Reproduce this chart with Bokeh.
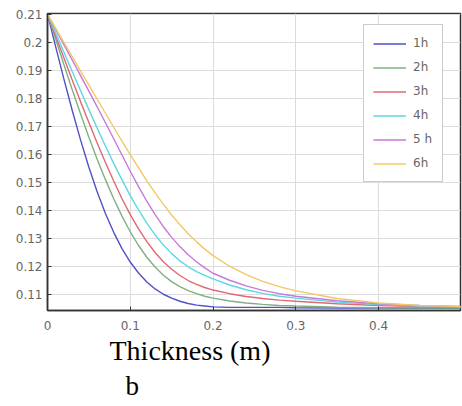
from bokeh.plotting import figure
from bokeh.models import Range1d, FixedTicker, Legend, LegendItem, Title
from bokeh.embed import file_html
from bokeh.resources import INLINE

# Thickness (m)
thickness = [0.00, 0.01, 0.02, 0.03, 0.04, 0.05, 0.06, 0.07, 0.08, 0.09,
             0.10, 0.11, 0.12, 0.13, 0.14, 0.15, 0.16, 0.17, 0.18, 0.19,
             0.20, 0.22, 0.24, 0.26, 0.28, 0.30, 0.35, 0.40, 0.45, 0.50]

h1 = [0.2100, 0.1982, 0.1866, 0.1755, 0.1650, 0.1553, 0.1466, 0.1388, 0.1321, 0.1263,
      0.1215, 0.1176, 0.1144, 0.1119, 0.1100, 0.1086, 0.1075, 0.1067, 0.1061, 0.1058,
      0.1055, 0.1053, 0.1053, 0.1053, 0.1053, 0.1052, 0.1051, 0.1051, 0.1050, 0.1050]
h2 = [0.2100, 0.2009, 0.1918, 0.1829, 0.1743, 0.1660, 0.1582, 0.1509, 0.1441, 0.1379,
      0.1323, 0.1274, 0.1232, 0.1197, 0.1168, 0.1145, 0.1127, 0.1113, 0.1102, 0.1093,
      0.1086, 0.1076, 0.1069, 0.1064, 0.1060, 0.1058, 0.1054, 0.1052, 0.1051, 0.1051]
h3 = [0.2100, 0.2021, 0.1942, 0.1864, 0.1787, 0.1713, 0.1640, 0.1570, 0.1504, 0.1441,
      0.1384, 0.1333, 0.1288, 0.1249, 0.1216, 0.1189, 0.1167, 0.1149, 0.1135, 0.1124,
      0.1115, 0.1102, 0.1092, 0.1085, 0.1079, 0.1075, 0.1066, 0.1060, 0.1056, 0.1054]
h4 = [0.2100, 0.2032, 0.1963, 0.1894, 0.1826, 0.1759, 0.1693, 0.1629, 0.1567, 0.1508,
      0.1452, 0.1401, 0.1354, 0.1312, 0.1276, 0.1245, 0.1219, 0.1198, 0.1181, 0.1167,
      0.1155, 0.1133, 0.1116, 0.1103, 0.1093, 0.1086, 0.1072, 0.1063, 0.1058, 0.1055]
h5 = [0.2100, 0.2045, 0.1990, 0.1935, 0.1880, 0.1825, 0.1769, 0.1712, 0.1655, 0.1597,
      0.1539, 0.1484, 0.1432, 0.1384, 0.1341, 0.1303, 0.1270, 0.1241, 0.1216, 0.1194,
      0.1175, 0.1150, 0.1130, 0.1114, 0.1102, 0.1093, 0.1077, 0.1066, 0.1060, 0.1056]
h6 = [0.2100, 0.2049, 0.1998, 0.1947, 0.1896, 0.1846, 0.1796, 0.1746, 0.1696, 0.1646,
      0.1598, 0.1551, 0.1505, 0.1462, 0.1421, 0.1383, 0.1348, 0.1316, 0.1287, 0.1261,
      0.1238, 0.1200, 0.1170, 0.1146, 0.1127, 0.1112, 0.1085, 0.1069, 0.1060, 0.1056]

series_names = ["1h", "2h", "3h", "4h", "5 h", "6h"]
series_values = [h1, h2, h3, h4, h5, h6]
series_colors = ["#5050c8", "#7fb07f", "#e06872", "#5cd8e4", "#c878dc", "#f2c866"]

x_ticks = [0.0, 0.1, 0.2, 0.3, 0.4]
x_tick_labels = {0.0: "0", 0.1: "0.1", 0.2: "0.2", 0.3: "0.3", 0.4: "0.4"}
y_ticks = [0.11, 0.12, 0.13, 0.14, 0.15, 0.16, 0.17, 0.18, 0.19, 0.20, 0.21]
y_tick_labels = {0.11: "0.11", 0.12: "0.12", 0.13: "0.13", 0.14: "0.14", 0.15: "0.15",
                 0.16: "0.16", 0.17: "0.17", 0.18: "0.18", 0.19: "0.19", 0.2: "0.2", 0.21: "0.21"}

p = figure(width=462, height=406, output_backend="svg", toolbar_location=None,
           x_range=Range1d(0, 0.499), y_range=Range1d(0.1042, 0.2102),
           min_border_left=47, min_border_right=2, min_border_top=13, min_border_bottom=96)

p.background_fill_color = "white"
p.border_fill_color = "white"
p.outline_line_color = "#333333"
p.outline_line_width = 1.5

p.xaxis.ticker = FixedTicker(ticks=x_ticks)
p.yaxis.ticker = FixedTicker(ticks=y_ticks)
p.yaxis.major_label_overrides = y_tick_labels
p.xaxis.major_label_overrides = x_tick_labels

for ax in (p.xaxis[0], p.yaxis[0]):
    ax.axis_line_color = "#333333"
    ax.axis_line_width = 1.5
    ax.major_tick_in = 4
    ax.major_tick_out = 0
    ax.minor_tick_line_color = None
    ax.major_tick_line_color = "#333333"
    ax.major_label_text_font = "DejaVu Sans"
    ax.major_label_text_font_size = "12px"
    ax.major_label_text_color = "#666666"
p.xaxis.major_label_standoff = 10
p.yaxis.major_label_standoff = 5

p.xgrid.grid_line_color = "#dcdcdc"
p.ygrid.grid_line_color = "#dcdcdc"
p.xgrid.grid_line_width = 1
p.ygrid.grid_line_width = 1

items = []
for name, vals, col in zip(series_names, series_values, series_colors):
    r = p.line(thickness, vals, line_color=col, line_width=1.4)
    items.append(LegendItem(label=name, renderers=[r]))

legend = Legend(items=items, location=(316, 128))
legend.glyph_width = 33
legend.glyph_height = 17
legend.label_height = 18
legend.spacing = 6
legend.padding = 9
legend.margin = 0
legend.label_standoff = 7
legend.label_text_font = "DejaVu Sans"
legend.label_text_font_size = "12px"
legend.label_text_color = "#666666"
legend.border_line_color = "#999999"
legend.border_line_width = 1.5
legend.background_fill_alpha = 1
p.add_layout(legend, "center")

t1 = Title(text="Thickness (m)", align="left", offset=62, standoff=0,
           text_font="Liberation Serif", text_font_size="28px",
           text_font_style="normal", text_color="black")
t2 = Title(text="b", align="left", offset=78, standoff=6,
           text_font="Liberation Serif", text_font_size="27px",
           text_font_style="normal", text_color="black")
p.add_layout(t1, "below")
p.add_layout(t2, "below")

open("out.html", "w").write(file_html(p, INLINE))
